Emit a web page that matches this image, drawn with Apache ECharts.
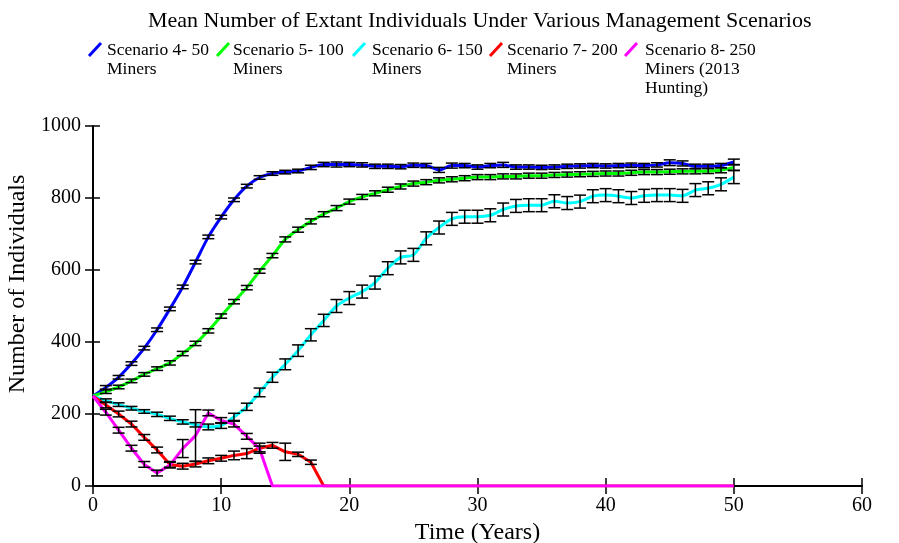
<!DOCTYPE html>
<html>
<head>
<meta charset="utf-8">
<script src="https://cdn.jsdelivr.net/npm/echarts@6/dist/echarts.min.js"></script>
<style>
  html, body { margin: 0; padding: 0; background: #ffffff; }
  #main { width: 899px; height: 543px; }
</style>
</head>
<body>
<div id="main"></div>
<script>
// time in years
var years = [0, 1, 2, 3, 4, 5, 6, 7, 8, 9, 10, 11, 12, 13, 14, 15, 16, 17, 18, 19, 20,
  21, 22, 23, 24, 25, 26, 27, 28, 29, 30, 31, 32, 33, 34, 35, 36, 37, 38, 39, 40,
  41, 42, 43, 44, 45, 46, 47, 48, 49, 50]

var scenarioNames = ['Scenario 4- 50 Miners', 'Scenario 5- 100 Miners', 'Scenario 6- 150 Miners',
  'Scenario 7- 200 Miners', 'Scenario 8- 250 Miners (2013 Hunting)']
var legendLabels = ['Scenario 4- 50\nMiners', 'Scenario 5- 100\nMiners', 'Scenario 6- 150\nMiners',
  'Scenario 7- 200\nMiners', 'Scenario 8- 250\nMiners (2013\nHunting)']
var colors = ['#0000ff', '#00ff00', '#00ffff', '#ff0000', '#ff00ff']

// mean number of individuals
var scenario4 = [250, 274, 302, 340, 383, 434, 492, 553, 622, 692, 747, 795, 833, 857, 868, 872, 875, 885, 893, 893,
  893, 892, 888, 888, 887, 891, 890, 878, 890, 890, 886, 890, 892, 886, 886, 885, 886, 888, 889, 890,
  889, 890, 891, 890, 892, 898, 896, 888, 888, 890, 900]
var scenario5 = [250, 262, 275, 292, 310, 326, 342, 368, 396, 431, 472, 512, 551, 597, 640, 685, 712, 735, 755, 772,
  790, 803, 813, 823, 832, 840, 844, 849, 852, 855, 858, 858, 860, 860, 862, 862, 864, 865, 866, 867,
  868, 868, 870, 872, 872, 873, 874, 874, 875, 877, 885]
var scenario6 = [250, 237, 226, 216, 207, 199, 188, 178, 170, 164, 168, 192, 220, 260, 302, 338, 376, 420, 460, 500,
  522, 540, 565, 605, 635, 642, 688, 718, 742, 748, 748, 752, 768, 778, 780, 780, 791, 786, 790, 805,
  808, 805, 800, 806, 808, 808, 806, 822, 827, 838, 858]
var scenario7 = [250, 225, 200, 172, 135, 100, 60, 55, 61, 70, 77, 85, 90, 105, 113, 95, 88, 66, 0, 0,
  0, 0, 0, 0, 0, 0, 0, 0, 0, 0, 0, 0, 0, 0, 0, 0, 0, 0, 0, 0,
  0, 0, 0, 0, 0, 0, 0, 0, 0, 0, 0]
var scenario8 = [250, 205, 155, 105, 60, 36, 58, 104, 140, 203, 182, 172, 138, 103, 0, 0, 0, 0, 0, 0,
  0, 0, 0, 0, 0, 0, 0, 0, 0, 0, 0, 0, 0, 0, 0, 0, 0, 0, 0, 0,
  0, 0, 0, 0, 0, 0, 0, 0, 0, 0, 0]

// error (+/-) around each mean
var error4 = [0, 5, 5, 5, 5, 5, 5, 5, 5, 5, 5, 5, 5, 5, 5, 5, 5, 6, 6, 7,
  6, 6, 6, 6, 6, 6, 6, 7, 7, 6, 6, 6, 7, 6, 6, 6, 6, 6, 6, 6,
  6, 6, 6, 6, 6, 8, 7, 6, 6, 6, 8]
var error5 = [0, 5, 5, 5, 5, 5, 6, 6, 6, 6, 6, 6, 6, 6, 6, 7, 7, 7, 7, 7,
  7, 7, 7, 7, 7, 7, 7, 7, 7, 7, 7, 7, 7, 7, 7, 7, 7, 7, 7, 7,
  7, 7, 7, 7, 7, 7, 7, 7, 7, 7, 8]
var error6 = [0, 5, 5, 5, 5, 6, 6, 6, 6, 8, 8, 10, 10, 12, 14, 15, 16, 17, 17, 18,
  18, 18, 18, 18, 18, 18, 18, 18, 18, 18, 18, 18, 18, 18, 18, 18, 18, 18, 18, 18,
  18, 18, 18, 18, 18, 18, 18, 18, 18, 18, 18]
var error7 = [0, 8, 8, 8, 8, 8, 8, 8, 8, 8, 8, 12, 14, 14, 8, 24, 6, 6, 0, 0,
  0, 0, 0, 0, 0, 0, 0, 0, 0, 0, 0, 0, 0, 0, 0, 0, 0, 0, 0, 0,
  0, 0, 0, 0, 0, 0, 0, 0, 0, 0, 0]
var error8 = [0, 8, 8, 8, 8, 8, 8, 25, 72, 8, 8, 8, 8, 8, 0, 0, 0, 0, 0, 0,
  0, 0, 0, 0, 0, 0, 0, 0, 0, 0, 0, 0, 0, 0, 0, 0, 0, 0, 0, 0,
  0, 0, 0, 0, 0, 0, 0, 0, 0, 0, 0]

var xTicks = [0, 10, 20, 30, 40, 50, 60]
var yTicks = [0, 200, 400, 600, 800, 1000]

var means = [scenario4, scenario5, scenario6, scenario7, scenario8]
var errors = [error4, error5, error6, error7, error8]

var font = '"Liberation Serif", "Times New Roman", serif'

var lineSeries = means.map(function (vals, k) {
  return {
    name: scenarioNames[k],
    type: 'line',
    xAxisIndex: 0,
    yAxisIndex: 0,
    data: years.map(function (t, i) { return [t, vals[i]] }),
    showSymbol: false,
    smooth: k < 3 ? 0.25 : false,
    lineStyle: { color: colors[k], width: 3 },
    itemStyle: { color: colors[k] },
    z: 3
  }
})

var barData = []
means.forEach(function (vals, k) {
  years.forEach(function (t, i) {
    if (errors[k][i] > 0) {
      barData.push([t, vals[i] - errors[k][i], vals[i] + errors[k][i]])
    }
  })
})

var errorSeries = {
  type: 'custom',
  xAxisIndex: 0,
  yAxisIndex: 0,
  data: barData,
  encode: { x: 0, y: [1, 2] },
  z: 4,
  silent: true,
  renderItem: function (params, api) {
    var top = api.coord([api.value(0), api.value(2)])
    var bot = api.coord([api.value(0), api.value(1)])
    var w = 6
    var st = { stroke: '#000000', lineWidth: 1.5 }
    return {
      type: 'group',
      children: [
        { type: 'line', shape: { x1: top[0], y1: top[1], x2: bot[0], y2: bot[1] }, style: st },
        { type: 'line', shape: { x1: top[0] - w, y1: top[1], x2: top[0] + w, y2: top[1] }, style: st },
        { type: 'line', shape: { x1: bot[0] - w, y1: bot[1], x2: bot[0] + w, y2: bot[1] }, style: st }
      ]
    }
  }
}

// legend drawn by hand: slanted stroke + wrapped label
var legendX = [89, 217, 353, 490, 625]
var legendTextX = [107, 233, 372, 507, 645]
var legendGraphics = []
legendLabels.forEach(function (label, k) {
  legendGraphics.push({
    type: 'line',
    shape: { x1: legendX[k], y1: 56, x2: legendX[k] + 12, y2: 43 },
    style: { stroke: colors[k], lineWidth: 3 }
  })
  legendGraphics.push({
    type: 'text',
    x: legendTextX[k],
    y: 41,
    style: {
      text: label,
      font: '17.5px ' + font,
      lineHeight: 19,
      fill: '#000000',
      verticalAlign: 'top'
    }
  })
})

var axisLabelStyle = { fontFamily: font, fontSize: 20, color: '#000000' }

var option = {
  animation: false,
  backgroundColor: '#ffffff',
  title: {
    text: 'Mean Number of Extant Individuals Under Various Management Scenarios',
    left: 143,
    top: 5,
    textStyle: { fontFamily: font, fontSize: 22, fontWeight: 'normal', color: '#000000' }
  },
  graphic: legendGraphics,
  grid: { left: 93, right: 37, top: 126, bottom: 57, outerBoundsMode: 'none' },
  xAxis: [{
    type: 'value',
    min: xTicks[0],
    max: xTicks[xTicks.length - 1],
    interval: 10,
    position: 'bottom',
    name: 'Time (Years)',
    nameLocation: 'middle',
    nameGap: 26,
    nameTextStyle: { fontFamily: font, fontSize: 24, color: '#000000' },
    axisLine: { show: true, lineStyle: { color: '#000000', width: 2 } },
    axisTick: { show: true, length: 8, lineStyle: { color: '#000000', width: 1.5 } },
    axisLabel: Object.assign({ margin: 10 }, axisLabelStyle),
    splitLine: { show: false }
  }, {
    type: 'value',
    min: xTicks[0],
    max: xTicks[xTicks.length - 1],
    interval: 10,
    position: 'bottom',
    axisLine: { show: false },
    axisTick: { show: true, inside: true, length: 8, lineStyle: { color: '#000000', width: 1.5 } },
    axisLabel: { show: false },
    splitLine: { show: false }
  }],
  yAxis: [{
    type: 'value',
    min: yTicks[0],
    max: yTicks[yTicks.length - 1],
    interval: 200,
    position: 'left',
    name: 'Number of Individuals',
    nameLocation: 'middle',
    nameGap: 57,
    nameTextStyle: { fontFamily: font, fontSize: 24, color: '#000000', padding: [0, 0, 0, 44] },
    axisLine: { show: true, lineStyle: { color: '#000000', width: 2 } },
    axisTick: { show: true, length: 8, lineStyle: { color: '#000000', width: 1.5 } },
    axisLabel: Object.assign({
      margin: 12,
      formatter: function (v) { return String(v) }
    }, axisLabelStyle),
    splitLine: { show: false }
  }, {
    type: 'value',
    min: yTicks[0],
    max: yTicks[yTicks.length - 1],
    interval: 200,
    position: 'left',
    axisLine: { show: false },
    axisTick: { show: true, inside: true, length: 7, lineStyle: { color: '#000000', width: 1.5 } },
    axisLabel: { show: false },
    splitLine: { show: false }
  }],
  series: lineSeries.concat([errorSeries])
}

var myChart = echarts.init(document.getElementById('main'))
myChart.setOption(option)
</script>
</body>
</html>
